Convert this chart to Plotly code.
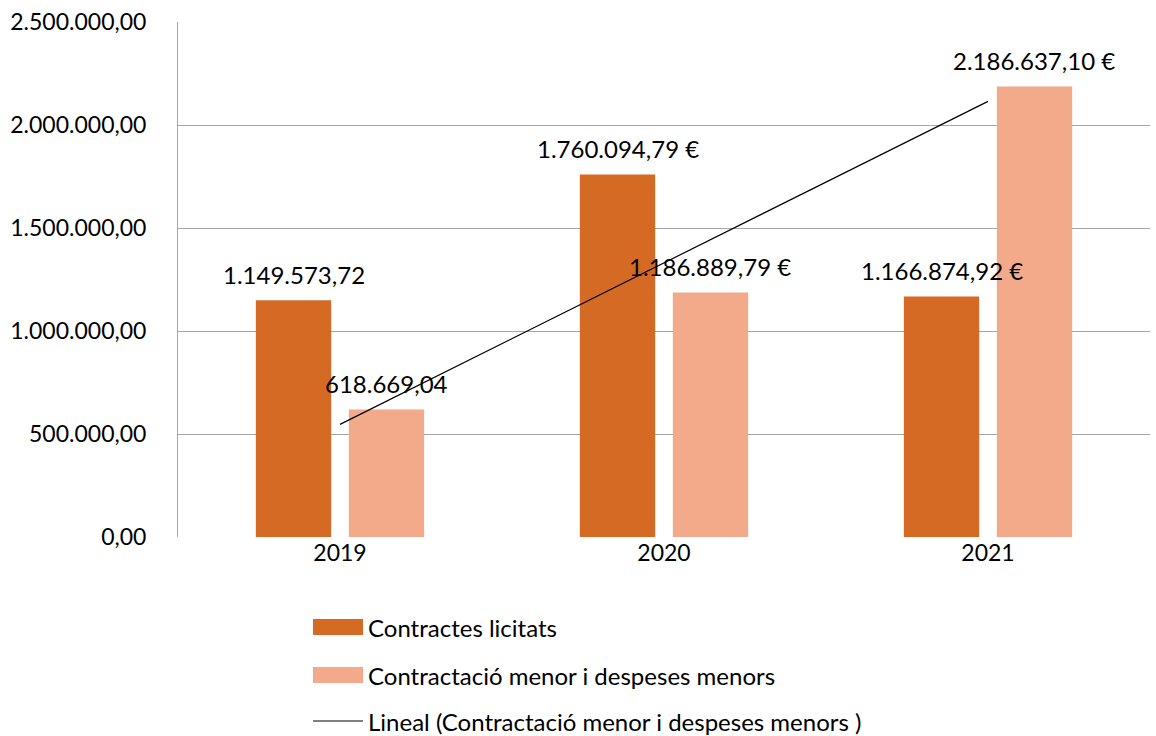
import numpy as np
import plotly.graph_objects as go

years = ["2019", "2020", "2021"]
licitats = [1149573.72, 1760094.79, 1166874.92]
menors = [618669.04, 1186889.79, 2186637.10]
labels_licitats = ["1.149.573,72", "1.760.094,79 €", "1.166.874,92 €"]
labels_menors = ["618.669,04", "1.186.889,79 €", "2.186.637,10 €"]
ytick_vals = [0, 500000, 1000000, 1500000, 2000000, 2500000]
ytick_text = ["0,00", "500.000,00", "1.000.000,00", "1.500.000,00", "2.000.000,00", "2.500.000,00"]
series_names = ["Contractes licitats", "Contractació menor i despeses menors",
                "Lineal (Contractació menor i despeses menors )"]

FONT = "Lato"
FS = 24
FS_TICK = 23
C_DARK = "#d56a24"
C_LIGHT = "#f2aa8b"
W, H = 1156, 736
ML, MR, MT, MB = 178, 6, 22, 199
BARGAP, BARGROUPGAP = 0.426, 0.19

idx = np.arange(len(years))
slope, intercept = np.polyfit(idx + 1, menors, 1)
trend_y = slope * (idx + 1) + intercept

plot_w = W - ML - MR
plot_h = H - MT - MB
cat_px = plot_w / len(years)
slot_px = cat_px * (1 - BARGAP) / 2

fig = go.Figure()
fig.add_trace(go.Bar(x=idx, y=licitats, name=series_names[0],
                     marker=dict(color=C_DARK, line=dict(width=0))))
fig.add_trace(go.Bar(x=idx, y=menors, name=series_names[1],
                     marker=dict(color=C_LIGHT, line=dict(width=0))))
fig.add_trace(go.Scatter(x=idx, y=trend_y, mode="lines", name=series_names[2],
                         line=dict(color="#000000", width=1.2)))

annotations = []
for vals, labs, sign in ((licitats, labels_licitats, -1), (menors, labels_menors, 1)):
    for i, (v, t) in enumerate(zip(vals, labs)):
        annotations.append(dict(
            x=i, y=v, xref="x", yref="y", text=t, showarrow=False,
            xshift=sign * slot_px / 2, yshift=26, yanchor="middle", xanchor="center",
            font=dict(family=FONT, size=FS, color="#000000"),
        ))

# manual legend (swatches + labels) below the plot
shapes = []
leg_left_px, sw_w, sw_h = 313, 50, 16
leg_rows_px = [627, 675, 721]
def px_x(p):
    return (p - ML) / plot_w
def px_y(p):
    return (H - MB - p) / plot_h
for k, (row, name) in enumerate(zip(leg_rows_px, series_names)):
    if k < 2:
        shapes.append(dict(type="rect", xref="paper", yref="paper",
                           x0=px_x(leg_left_px), x1=px_x(leg_left_px + sw_w),
                           y0=px_y(row + sw_h / 2), y1=px_y(row - sw_h / 2),
                           fillcolor=[C_DARK, C_LIGHT][k], line=dict(width=0)))
    else:
        shapes.append(dict(type="line", xref="paper", yref="paper",
                           x0=px_x(leg_left_px), x1=px_x(leg_left_px + sw_w),
                           y0=px_y(row), y1=px_y(row),
                           line=dict(color="#000000", width=1)))
    annotations.append(dict(x=px_x(leg_left_px + sw_w + 3), y=px_y(row),
                            xref="paper", yref="paper", text=name, showarrow=False,
                            xanchor="left", yanchor="middle",
                            font=dict(family=FONT, size=FS, color="#000000")))

fig.update_layout(
    width=W, height=H,
    margin=dict(l=ML, r=MR, t=MT, b=MB, autoexpand=False),
    paper_bgcolor="white", plot_bgcolor="white",
    font=dict(family=FONT, size=FS, color="#000000"),
    barmode="group", bargap=BARGAP, bargroupgap=BARGROUPGAP,
    showlegend=False,
    annotations=annotations, shapes=shapes,
    xaxis=dict(
        tickmode="array", tickvals=idx, ticktext=years,
        range=[-0.5, 2.5], showgrid=False, zeroline=False,
        showline=False, ticks="", tickfont=dict(family=FONT, size=FS_TICK),
    ),
    yaxis=dict(
        range=[0, 2500000], tickmode="array", tickvals=ytick_vals, ticktext=ytick_text,
        showgrid=True, gridcolor="#a6a6a6", gridwidth=1,
        zeroline=False, showline=True, linecolor="#a6a6a6", linewidth=1,
        ticks="", ticklabelstandoff=26, tickfont=dict(family=FONT, size=FS_TICK),
    ),
)

fig.write_html("out.html")
